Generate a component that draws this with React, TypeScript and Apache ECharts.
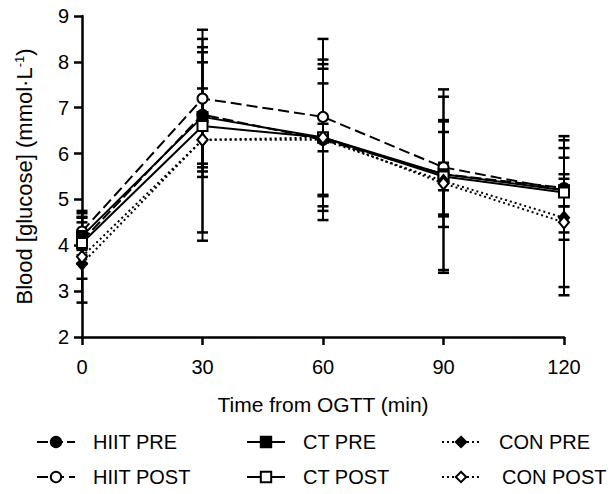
import React, { useEffect, useRef } from "react";
import * as echarts from "echarts";

const times = [0, 30, 60, 90, 120];
const xTicks = [0, 30, 60, 90, 120];

const hiitPre = [4.1, 6.85, 6.3, 5.55, 5.25];
const hiitPreSd = [0.5, 1.36, 1.75, 1.15, 1.13];
const hiitPost = [4.3, 7.2, 6.8, 5.7, 5.2];
const hiitPostSd = [0.4, 1.5, 1.7, 1.03, 0.35];
const ctPre = [4.2, 6.8, 6.35, 5.55, 5.2];
const ctPreSd = [0.42, 1.19, 1.6, 0.92, 0.92];
const ctPost = [4.05, 6.6, 6.35, 5.5, 5.15];
const ctPostSd = [0.45, 0.82, 1.5, 0.3, 0.3];
const conPre = [3.6, 6.3, 6.3, 5.4, 4.6];
const conPreSd = [0.33, 2.02, 1.23, 2.0, 1.69];
const conPost = [3.75, 6.3, 6.35, 5.35, 4.5];
const conPostSd = [1.0, 2.2, 0.3, 1.89, 1.41];

const FONT = "Liberation Sans, Arial, sans-serif";

type Grp = {
  name: string;
  vals: number[];
  sd: number[];
  symbol: string;
  open: boolean;
  dash: any;
};

const groups: Grp[] = [
  { name: "HIIT PRE", vals: hiitPre, sd: hiitPreSd, symbol: "circle", open: false, dash: [11, 4] },
  { name: "HIIT POST", vals: hiitPost, sd: hiitPostSd, symbol: "circle", open: true, dash: [11, 5] },
  { name: "CT PRE", vals: ctPre, sd: ctPreSd, symbol: "rect", open: false, dash: "solid" },
  { name: "CT POST", vals: ctPost, sd: ctPostSd, symbol: "rect", open: true, dash: "solid" },
  { name: "CON PRE", vals: conPre, sd: conPreSd, symbol: "diamond", open: false, dash: [2, 3] },
  { name: "CON POST", vals: conPost, sd: conPostSd, symbol: "diamond", open: true, dash: [2, 3] },
];

// legend placement: [left, top, extra text padding]
const legendPos: [number, number, number][] = [
  [31, 427, 13],
  [31, 462, 13],
  [241, 427, 13],
  [241, 462, 13],
  [436, 427, 14],
  [436, 462, 17],
];

export default function App() {
  const ref = useRef<HTMLDivElement>(null);
  useEffect(() => {
    document.body.style.margin = "0";
    if (!ref.current) return;
    const chart = echarts.init(ref.current, null, { renderer: "svg" });
    const errSeries = groups.map((g) => ({
      type: "custom",
      silent: true,
      z: 1,
      data: times.map((t, i) => [t, g.vals[i] - g.sd[i], g.vals[i] + g.sd[i]]),
      encode: { x: 0, y: [1, 2] },
      renderItem: (params: any, api: any) => {
        const x = api.value(0);
        const lo = api.coord([x, api.value(1)]);
        const hi = api.coord([x, api.value(2)]);
        const w = 5.5;
        const st = { stroke: "#000", lineWidth: 2 };
        const cs = { stroke: "#000", lineWidth: 2.5 };
        return {
          type: "group",
          children: [
            { type: "line", shape: { x1: lo[0], y1: lo[1], x2: hi[0], y2: hi[1] }, style: st },
            { type: "line", shape: { x1: lo[0] - w, y1: lo[1], x2: lo[0] + w, y2: lo[1] }, style: cs },
            { type: "line", shape: { x1: hi[0] - w, y1: hi[1], x2: hi[0] + w, y2: hi[1] }, style: cs },
          ],
        };
      },
    }));
    const lineSeries = groups.map((g) => ({
      type: "line",
      name: g.name,
      z: 3,
      data: times.map((t, i) => [t, g.vals[i]]),
      symbol: g.symbol,
      symbolSize: g.symbol === "diamond" ? [10, 12] : 10,
      lineStyle: { color: "#000", width: 2, type: g.dash },
      itemStyle: {
        color: g.open ? "#fff" : "#000",
        borderColor: "#000",
        borderWidth: 2,
      },
    }));
    const legends = groups.map((g, i) => ({
      orient: "horizontal",
      left: legendPos[i][0],
      top: legendPos[i][1],
      itemWidth: 38,
      itemHeight: 13,
      selectedMode: false,
      data: [g.name],
      textStyle: {
        fontSize: 20,
        fontFamily: FONT,
        color: "#000",
        padding: [0, 0, 0, legendPos[i][2]],
      },
    }));
    chart.setOption({
      animation: false,
      grid: { left: 82, right: 49, top: 16, bottom: 157 },
      legend: legends,
      xAxis: {
        type: "value",
        min: xTicks[0],
        max: xTicks[xTicks.length - 1],
        interval: 30,
        name: "Time from OGTT (min)",
        nameLocation: "middle",
        nameGap: 57,
        nameTextStyle: { fontSize: 21, fontFamily: FONT, color: "#000" },
        axisLine: { lineStyle: { color: "#000", width: 2.5 } },
        axisTick: { length: 8, lineStyle: { color: "#000", width: 2.5 } },
        axisLabel: { fontSize: 20, fontFamily: FONT, color: "#000", margin: 20 },
        splitLine: { show: false },
      },
      yAxis: {
        type: "value",
        min: 2,
        max: 9,
        interval: 1,
        name: "Blood [glucose] (mmol·L{sup|-1})",
        nameLocation: "middle",
        nameGap: 46,
        nameTextStyle: {
          fontSize: 22,
          fontFamily: FONT,
          color: "#000",
          lineHeight: 23,
          rich: { sup: { fontSize: 13, lineHeight: 13, verticalAlign: "top", fontFamily: FONT, color: "#000" } },
        },
        axisLine: { show: true, lineStyle: { color: "#000", width: 2.5 } },
        axisTick: { show: true, length: 8, lineStyle: { color: "#000", width: 2.5 } },
        axisLabel: { fontSize: 20, fontFamily: FONT, color: "#000", margin: 13 },
        splitLine: { show: false },
      },
      series: [...errSeries, ...lineSeries],
    });
    return () => chart.dispose();
  }, []);
  return <div ref={ref} style={{ width: 613, height: 494 }} />;
}
